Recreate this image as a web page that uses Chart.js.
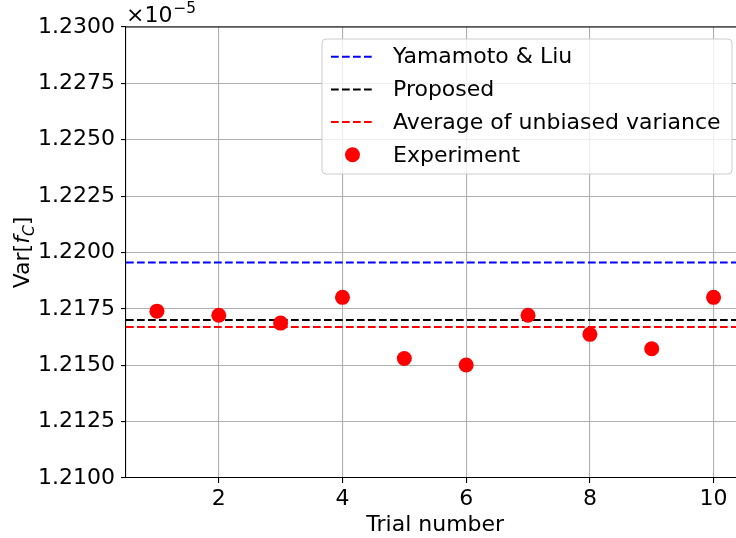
<!DOCTYPE html>
<html><head><meta charset="utf-8">
<script src="https://cdn.jsdelivr.net/npm/chart.js@4/dist/chart.umd.min.js"></script>
<style>html,body{margin:0;padding:0;overflow:hidden;background:#fff}#c{display:block;width:752px;height:538px}</style>
</head><body><canvas id="c" width="752" height="538"></canvas>
<script>
// values in units of 1e-5
const trials = [1, 2, 3, 4, 5, 6, 7, 8, 9, 10];
const experiment = [1.21740, 1.21722, 1.21687, 1.21801, 1.21530, 1.21501, 1.21722, 1.21637, 1.21573, 1.21801];
const yamamotoLiu = 1.21956;
const proposed = 1.21701;
const avgUnbiased = 1.21670;
const seriesNames = ['Yamamoto & Liu', 'Proposed', 'Average of unbiased variance', 'Experiment'];
const seriesColors = ['#0000ff', '#000000', '#ff0000', '#ff0000'];
const xTicks = [2, 4, 6, 8, 10];
const yTicks = [1.2100, 1.2125, 1.2150, 1.2175, 1.2200, 1.2225, 1.2250, 1.2275, 1.2300];
const xRange = [0.5, 10.5];
const yRange = [1.2100, 1.2300];

const FONT = '"DejaVu Sans", sans-serif';
const DASH = [7.7, 3.3];

function hline(i, v) {
  return {
    type: 'line', label: seriesNames[i],
    data: [{x: xRange[0], y: v}, {x: xRange[1], y: v}],
    borderColor: seriesColors[i], backgroundColor: seriesColors[i],
    borderWidth: 2, borderDash: DASH, pointRadius: 0, order: 1
  };
}

const decor = {
  id: 'decor',
  afterDraw(chart) {
    const {ctx, chartArea: a} = chart;
    ctx.save();
    // top spine
    ctx.strokeStyle = '#000'; ctx.lineWidth = 1.1; ctx.setLineDash([]);
    ctx.beginPath(); ctx.moveTo(a.left - 0.5, a.top); ctx.lineTo(a.right + 2, a.top); ctx.stroke();

    // offset text
    ctx.fillStyle = '#000'; ctx.textAlign = 'left'; ctx.textBaseline = 'alphabetic';
    ctx.font = '22px ' + FONT;
    ctx.fillText('×10', a.left, a.top - 5);
    const w = ctx.measureText('×10').width;
    ctx.font = '15.4px ' + FONT;
    ctx.fillText('−5', a.left + w + 1, a.top - 14);

    // y title
    const parts = [
      ['Var[', '22px ' + FONT, 0],
      ['f', 'italic 22px ' + FONT, 0],
      ['C', 'italic 15.4px ' + FONT, 4.5],
      [']', '22px ' + FONT, 0]
    ];
    let tot = 0;
    parts.forEach(p => { ctx.font = p[1]; p.push(ctx.measureText(p[0]).width); tot += p[3]; });
    ctx.translate(29, (a.top + a.bottom) / 2);
    ctx.rotate(-Math.PI / 2);
    let px = -tot / 2;
    parts.forEach(p => { ctx.font = p[1]; ctx.fillText(p[0], px, p[2]); px += p[3]; });
    ctx.setTransform(1, 0, 0, 1, 0, 0);

    // legend
    const L = {x: 322, y: 39, w: 410, h: 135};
    ctx.beginPath();
    ctx.roundRect(L.x, L.y, L.w, L.h, 4);
    ctx.fillStyle = 'rgba(255,255,255,0.8)'; ctx.fill();
    ctx.strokeStyle = '#cccccc'; ctx.lineWidth = 1; ctx.stroke();
    const rows = [56.7, 89.4, 122.1, 154.8];
    chart.data.datasets.forEach((ds, i) => {
      const y = rows[i];
      if (ds.type === 'line') {
        ctx.strokeStyle = ds.borderColor; ctx.lineWidth = 2; ctx.setLineDash(DASH);
        ctx.beginPath(); ctx.moveTo(331, y); ctx.lineTo(372, y); ctx.stroke();
        ctx.setLineDash([]);
      } else {
        ctx.fillStyle = ds.backgroundColor;
        ctx.beginPath(); ctx.arc(352.5, y, 7.5, 0, Math.PI * 2); ctx.fill();
      }
      ctx.fillStyle = '#000'; ctx.font = '22px ' + FONT; ctx.textBaseline = 'middle';
      ctx.fillText(ds.label, 393, y + 1);
    });
    ctx.restore();
  }
};

new Chart(document.getElementById('c'), {
  data: {
    datasets: [
      hline(0, yamamotoLiu),
      hline(1, proposed),
      hline(2, avgUnbiased),
      {
        type: 'scatter', label: seriesNames[3],
        data: trials.map((t, i) => ({x: t, y: experiment[i]})),
        backgroundColor: seriesColors[3], borderColor: seriesColors[3],
        pointRadius: 7.5, pointHoverRadius: 7.5, borderWidth: 0, order: 0
      }
    ]
  },
  options: {
    responsive: false, animation: false, devicePixelRatio: 1,
    events: [],
    layout: {padding: {top: 27, left: 0, right: 0, bottom: 0}},
    plugins: {legend: {display: false}, tooltip: {enabled: false}},
    scales: {
      x: {
        type: 'linear', min: xRange[0], max: xRange[1],
        afterBuildTicks: s => { s.ticks = xTicks.map(v => ({value: v})); },
        afterFit: s => { s.height = 60; },
        grid: {color: '#b0b0b0', lineWidth: 1.1, tickColor: '#000', tickLength: 5, drawTicks: true},
        border: {display: true, color: '#000', width: 1.1},
        ticks: {font: {family: FONT, size: 22}, color: '#000', padding: 3, maxRotation: 0, autoSkip: false},
        title: {display: true, text: 'Trial number', font: {family: FONT, size: 22}, color: '#000', padding: {top: 0, bottom: 0}}
      },
      y: {
        type: 'linear', min: yRange[0], max: yRange[1],
        afterBuildTicks: s => { s.ticks = yTicks.map(v => ({value: v})); },
        afterFit: s => { s.width = 126; },
        grid: {color: '#b0b0b0', lineWidth: 1.1, tickColor: '#000', tickLength: 5, drawTicks: true},
        border: {display: true, color: '#000', width: 1.1},
        ticks: {font: {family: FONT, size: 22}, color: '#000', padding: 6, autoSkip: false, callback: v => v.toFixed(4)}
      }
    }
  },
  plugins: [decor]
});
</script>
</body></html>
